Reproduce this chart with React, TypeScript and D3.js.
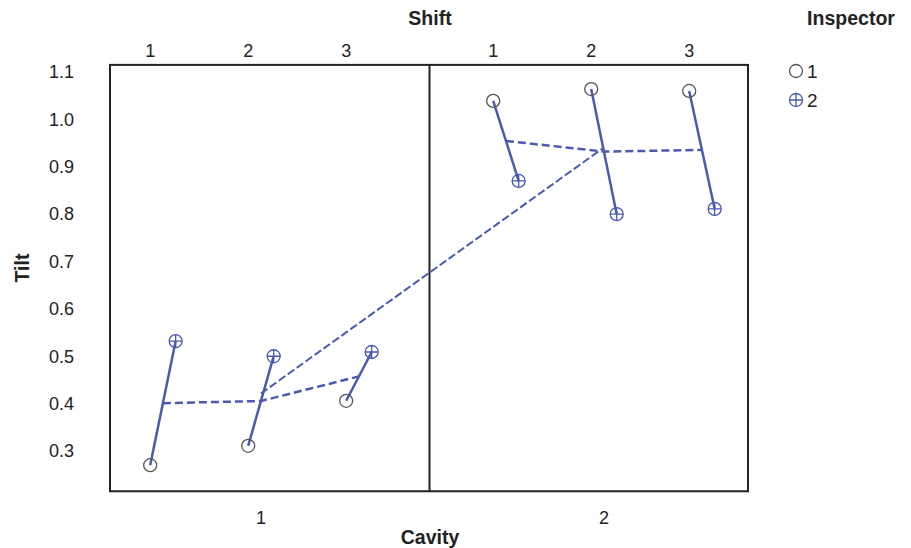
import React, { useEffect, useRef } from "react";
import { select, scaleLinear, axisLeft, line, mean } from "d3";

// data
const cavities = ["1", "2"];
const shifts = ["1", "2", "3"];
const inspectors = ["1", "2"];
const yTicks = [0.3, 0.4, 0.5, 0.6, 0.7, 0.8, 0.9, 1.0, 1.1];

// tilt per shift, one array per cavity
const cavity1Inspector1 = [0.27, 0.311, 0.406];
const cavity1Inspector2 = [0.532, 0.5, 0.509];
const cavity2Inspector1 = [1.039, 1.064, 1.06];
const cavity2Inspector2 = [0.87, 0.8, 0.811];

const tilt = [
  [cavity1Inspector1, cavity1Inspector2],
  [cavity2Inspector1, cavity2Inspector2],
];

const BLUE = "#4a5ab0";
const GRAY = "#555";
const TEXT = "#222";
const FONT = "'Liberation Sans', Arial, sans-serif";

function MultiVari() {
  const svgRef = useRef<SVGSVGElement>(null);

  useEffect(() => {
    const svg = select(svgRef.current);
    svg.selectAll("*").remove();

    // slot = position of each shift along x, cavity 2 set apart by half a slot
    const slot = (c: number, s: number) => c * 3.5 + s;
    const xScale = scaleLinear().domain([-0.41, 6.1]).range([110, 748]);
    const yScale = scaleLinear().domain([0.3, 1.1]).range([451, 72]);
    const inspOffset = 0.26;

    const px = (c: number, s: number, i: number) => xScale(slot(c, s) + i * inspOffset);

    // frame
    const top = yScale(1.115);
    const bottom = yScale(0.215);
    svg
      .append("rect")
      .attr("x", xScale(-0.41))
      .attr("y", top)
      .attr("width", xScale(6.1) - xScale(-0.41))
      .attr("height", bottom - top)
      .attr("fill", "none")
      .attr("stroke", "#222")
      .attr("stroke-width", 2);
    const divider = xScale(2.85);
    svg
      .append("line")
      .attr("x1", divider)
      .attr("x2", divider)
      .attr("y1", top)
      .attr("y2", bottom)
      .attr("stroke", "#222")
      .attr("stroke-width", 2);

    // y axis
    const yAxis = axisLeft(yScale)
      .tickValues(yTicks)
      .tickFormat((d: any) => (+d).toFixed(1))
      .tickSize(0)
      .tickPadding(36);
    const yg = svg.append("g").attr("transform", `translate(${xScale(-0.41)},0)`).call(yAxis);
    yg.select(".domain").remove();
    yg.selectAll("text").attr("font-size", 18).attr("font-family", FONT).attr("fill", TEXT);

    // shift labels on top
    cavities.forEach((_, c) => {
      shifts.forEach((s, si) => {
        svg
          .append("text")
          .attr("x", xScale(slot(c, si)))
          .attr("y", 57)
          .attr("text-anchor", "middle")
          .attr("font-size", 18)
          .attr("font-family", FONT)
          .attr("fill", TEXT)
          .text(s);
      });
      // cavity label under the middle shift
      svg
        .append("text")
        .attr("x", xScale(slot(c, 1) + inspOffset / 2))
        .attr("y", 524)
        .attr("text-anchor", "middle")
        .attr("font-size", 18)
        .attr("font-family", FONT)
        .attr("fill", TEXT)
        .text(cavities[c]);
    });

    // titles
    const title = (x: number, y: number, t: string, rotate = false) =>
      svg
        .append("text")
        .attr("x", rotate ? 0 : x)
        .attr("y", rotate ? 0 : y)
        .attr("transform", rotate ? `translate(${x},${y}) rotate(-90)` : null)
        .attr("text-anchor", "middle")
        .attr("font-size", 19.5)
        .attr("font-weight", "bold")
        .attr("font-family", FONT)
        .attr("fill", TEXT)
        .text(t);
    title(430, 25, "Shift");
    title(851, 25, "Inspector");
    title(29, 268, "Tilt", true);
    title(430, 544, "Cavity");

    const lineGen = line<[number, number]>();

    // mean lines (dashed)
    const cavityMeans: [number, number][] = [];
    tilt.forEach((pair, c) => {
      const shiftMeans: [number, number][] = shifts.map((_, s) => [
        (px(c, s, 0) + px(c, s, 1)) / 2,
        yScale((pair[0][s] + pair[1][s]) / 2),
      ]);
      svg
        .append("path")
        .attr("d", lineGen(shiftMeans))
        .attr("fill", "none")
        .attr("stroke", BLUE)
        .attr("stroke-width", 2.5)
        .attr("stroke-dasharray", "8,4");
      const m = mean(shifts.map((_, s) => (pair[0][s] + pair[1][s]) / 2)) as number;
      cavityMeans.push([(px(c, 1, 0) + px(c, 1, 1)) / 2, yScale(m)]);
    });
    svg
      .append("path")
      .attr("d", lineGen(cavityMeans))
      .attr("fill", "none")
      .attr("stroke", BLUE)
      .attr("stroke-width", 2)
      .attr("stroke-dasharray", "8,3");

    // inspector segments (solid)
    tilt.forEach((pair, c) => {
      shifts.forEach((_, s) => {
        svg
          .append("line")
          .attr("x1", px(c, s, 0))
          .attr("y1", yScale(pair[0][s]))
          .attr("x2", px(c, s, 1))
          .attr("y2", yScale(pair[1][s]))
          .attr("stroke", BLUE)
          .attr("stroke-width", 2.5);
      });
    });

    // markers
    const r = 6.5;
    const marker = (g: any, x: number, y: number, insp: number) => {
      g.append("circle")
        .attr("cx", x)
        .attr("cy", y)
        .attr("r", r)
        .attr("fill", "none")
        .attr("stroke", insp === 0 ? GRAY : BLUE)
        .attr("stroke-width", 1.3);
      if (insp === 1) {
        g.append("path")
          .attr("d", `M${x - r},${y}H${x + r}M${x},${y - r}V${y + r}`)
          .attr("stroke", BLUE)
          .attr("stroke-width", 1.3);
      }
    };
    const mg = svg.append("g");
    tilt.forEach((pair, c) => {
      pair.forEach((vals, i) => {
        vals.forEach((v, s) => marker(mg, px(c, s, i), yScale(v), i));
      });
    });

    // legend
    inspectors.forEach((ins, i) => {
      const ly = 71 + i * 29;
      marker(svg, 796, ly, i);
      svg
        .append("text")
        .attr("x", 807)
        .attr("y", ly + 7)
        .attr("font-size", 19)
        .attr("font-family", FONT)
        .attr("fill", TEXT)
        .text(ins);
    });
  }, []);

  return (
    <svg
      ref={svgRef}
      width={911}
      height={548}
      style={{ position: "absolute", left: 0, top: 0, display: "block" }}
    />
  );
}

export default function App() {
  return <MultiVari />;
}
